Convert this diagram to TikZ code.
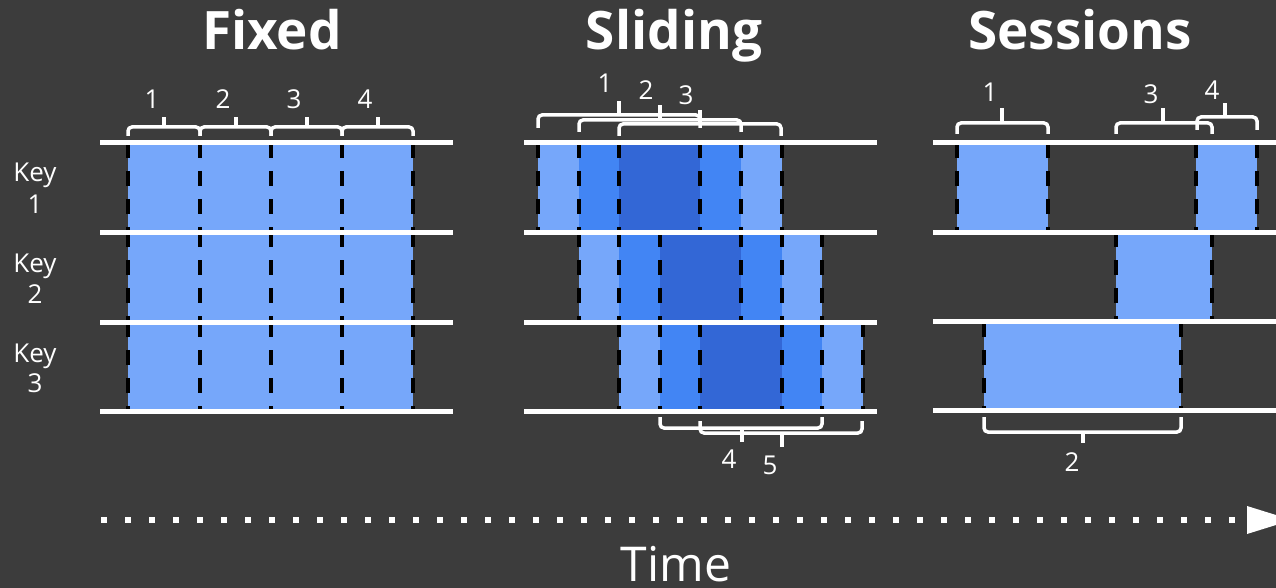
\documentclass[tikz,border=0pt]{standalone}
\usepackage{fontspec}
\setmainfont{Open Sans}
\definecolor{bg}{HTML}{3C3C3C}
\definecolor{winlight}{HTML}{76A7FA}
\definecolor{winmid}{HTML}{4285F4}
\definecolor{windark}{HTML}{3367D6}
\tikzset{
  rowline/.style={white, line width=5pt},
  edge/.style={black, line width=4pt, dash pattern=on 15pt off 13pt},
  brace/.style={white, line width=3.5pt, rounded corners=4pt},
  num/.style={white, inner sep=0pt, font=\fontsize{26}{31}\selectfont},
  keylbl/.style={white, inner sep=0pt, anchor=base, font=\fontsize{26}{31}\selectfont},
  title/.style={white, inner sep=0pt, anchor=base, font=\fontsize{53}{60}\selectfont\bfseries},
}
% brace: left x, right x, bar y, tip x, end y, tip y
\newcommand\wbrace[6]{%
  \draw[brace] (#1,#5) -- (#1,#3) -- (#2,#3) -- (#2,#5);
  \draw[brace] (#4,#3) -- (#4,#6);}
\begin{document}
\begin{tikzpicture}[x=1pt,y=-1pt]
\fill[bg] (0,0) rectangle (1276,588);
\useasboundingbox (0,0) rectangle (1276,588);
\clip (0,0) rectangle (1276,588);

% titles
\node[title] (tfixed) at (272,50) {Fixed};
\node[title] (tslide) at (674,50) {Sliding};
\node[title] (tsess) at (1080,50) {Sessions};

% key labels
\foreach \k/\ya/\yb in {1/182/213, 2/272/303, 3/362/392}{
  \node[keylbl] (key\k a) at (35,\ya) {Key};
  \node[keylbl] (key\k b) at (35,\yb) {\k};
}

% ---------- fixed windows ----------
\fill[winlight] (128,143) rectangle (413,411);
\foreach \ya/\yb in {143/232, 232/322, 322/411}
  \foreach \x in {128,200,271,342,413}
    \draw[edge] (\x,\ya) -- (\x,\yb);
\foreach \y in {143,232,322,411}
  \draw[rowline] (100,\y) -- (453,\y);
\wbrace{128}{200}{127}{164}{136}{117}
\wbrace{200}{271}{127}{236}{136}{117}
\wbrace{271}{342}{127}{307}{136}{117}
\wbrace{342}{413}{127}{378}{136}{117}
\node[num] (f1) at (152,99) {1};
\node[num] (f2) at (223,99) {2};
\node[num] (f3) at (294,99) {3};
\node[num] (f4) at (365,99) {4};

% ---------- sliding windows ----------
\def\u{40.6}
\foreach \k/\ya/\yb in {0/143/232, 1/232/322, 2/322/411}{
  \pgfmathsetmacro\xs{538+\k*\u}
  \fill[winlight] (\xs,\ya) rectangle (\xs+\u,\yb);
  \fill[winmid] (\xs+\u,\ya) rectangle (\xs+2*\u,\yb);
  \fill[windark] (\xs+2*\u,\ya) rectangle (\xs+4*\u,\yb);
  \fill[winmid] (\xs+4*\u,\ya) rectangle (\xs+5*\u,\yb);
  \fill[winlight] (\xs+5*\u,\ya) rectangle (\xs+6*\u,\yb);
  \foreach \j in {0,1,2,4,5,6}
    \draw[edge] (\xs+\j*\u,\ya) -- (\xs+\j*\u,\yb);
}
\foreach \y in {143,232,322,411}
  \draw[rowline] (524,\y) -- (877,\y);
\wbrace{538}{700}{115}{619}{128}{101}
\wbrace{579}{741}{120}{660}{132}{105}
\wbrace{619}{781}{124}{700}{136}{110}
\wbrace{660}{822}{428}{742}{417}{442}
\wbrace{700}{862}{433}{782}{421}{447}
\node[num] (s1) at (605,83) {1};
\node[num] (s2) at (646,90) {2};
\node[num] (s3) at (686,95) {3};
\node[num] (s4) at (729,459) {4};
\node[num] (s5) at (770,465) {5};

% ---------- session windows ----------
\fill[winlight] (957,143) rectangle (1048,232);
\fill[winlight] (1196,143) rectangle (1257,232);
\fill[winlight] (1116,232) rectangle (1212,322);
\fill[winlight] (984,322) rectangle (1181,411);
\foreach \x/\ya/\yb in {957/143/232, 1048/143/232, 1196/143/232, 1257/143/232,
                        1116/232/322, 1212/232/322, 984/322/411, 1181/322/411}
  \draw[edge] (\x,\ya) -- (\x,\yb);
\foreach \y in {143,232,321,410}
  \draw[rowline] (933,\y) -- (1276,\y);
\wbrace{957}{1048}{123}{1002}{134}{108}
\wbrace{1116}{1212}{123}{1163}{134}{108}
\wbrace{1197}{1257}{117}{1225}{130}{103}
\wbrace{984}{1181}{432}{1083}{417}{443}
\node[num] (e1) at (990,92) {1};
\node[num] (e3) at (1151,94) {3};
\node[num] (e4) at (1212,90) {4};
\node[num] (e2) at (1072,462) {2};

% ---------- time axis ----------
\coordinate (tstart) at (101,520);
\coordinate (tend) at (1240,520);
\draw[white, line width=6pt, dash pattern=on 6pt off 18pt] (tstart) -- (tend);
\fill[white] (1247,506) -- (1292,520) -- (1247,534) -- cycle;
\node[white, inner sep=0pt, anchor=base, font=\fontsize{48}{56}\selectfont] (time) at (676,581) {Time};
\end{tikzpicture}
\end{document}
